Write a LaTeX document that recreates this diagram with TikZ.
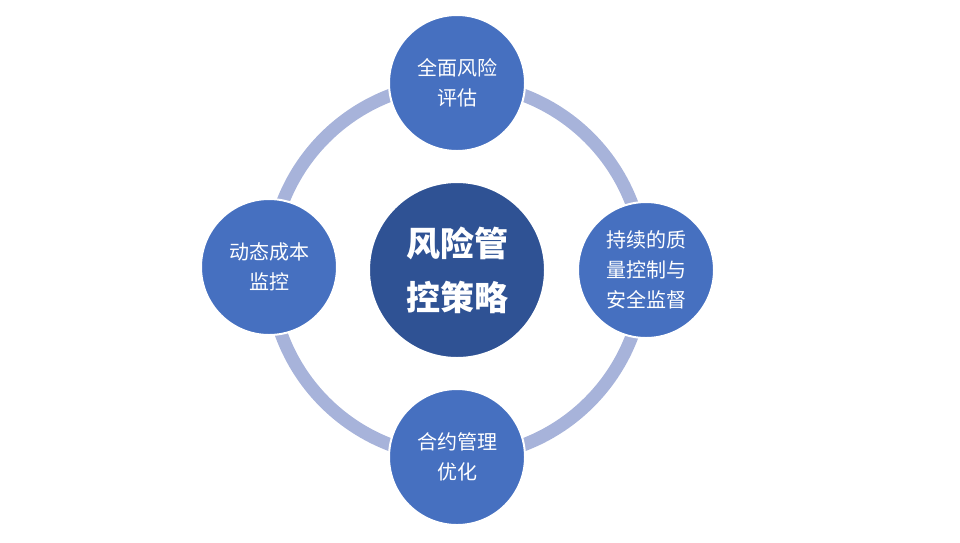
\documentclass[tikz,border=0pt]{standalone}
\usepackage{xcolor}
\usepackage{tikz}
\usepackage{fontspec}
\setmainfont{Noto Sans CJK SC}
\definecolor{ringc}{HTML}{A7B3DA}
\definecolor{nodec}{HTML}{4670C0}
\definecolor{hubc}{HTML}{2F5294}
\tikzset{
	item/.style={circle, fill=nodec, draw=white, line width=2pt, minimum size=136pt, inner sep=0pt, text=white, align=center, font=\fontsize{20}{30}\selectfont},
	hub/.style={circle, fill=hubc, draw=white, line width=2pt, minimum size=176pt, inner sep=0pt, text=white, align=center, font=\fontsize{34}{54}\selectfont\bfseries}
}

\begin{document}
\begin{tikzpicture}[x=1pt,y=-1pt]
	\useasboundingbox (0,0) rectangle (960,542);
	\coordinate (c) at (457,270);
	\draw[ringc, line width=13pt] (c) circle (187);
	\node[hub] (hub) at (c) {风险管\\控策略};
	\node[item] (top) at (457,83) {全面风险\\评估};
	\node[item] (right) at (646,270) {持续的质\\量控制与\\安全监督};
	\node[item] (bottom) at (457,457) {合约管理\\优化};
	\node[item] (left) at (269,267) {动态成本\\监控};
\end{tikzpicture}
\end{document}
